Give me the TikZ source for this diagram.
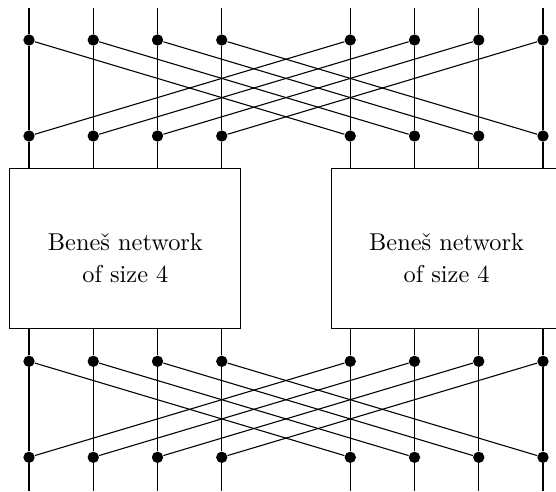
\documentclass[tikz,border=0pt]{standalone}
\begin{document}
\begin{tikzpicture}[x=0.4144pt,y=-0.4144pt,
  dot/.style={circle,fill=black,inner sep=0pt,minimum size=4.7pt},
  netbox/.style={draw,minimum width=95.7pt,minimum height=66.6pt},
  nettext/.style={align=center,font=\fontsize{10.1}{13.3}\selectfont},
  wire/.style={line width=0.45pt}]
\useasboundingbox (0,0) rectangle (556,491);
\node[netbox] (L) at (125.4,248.6) {};
\node[netbox] (R) at (446.6,248.6) {};
\node[nettext] (Lt) at (125.4,258) {Bene\v{s} network\\of size 4};
\node[nettext] (Rt) at (446.6,258) {Bene\v{s} network\\of size 4};
\foreach \k [count=\i] in {0,1,2,3,5,6,7,8} {
  \pgfmathsetmacro\xx{29+64.25*\k}
  \coordinate (t\i) at (\xx,8);
  \coordinate (e\i) at (\xx,491);
  \node[dot] (a\i) at (\xx,40) {};
  \node[dot] (b\i) at (\xx,136) {};
  \node[dot] (c\i) at (\xx,361.3) {};
  \node[dot] (d\i) at (\xx,457.3) {};
}
\foreach \i in {1,...,4} {
  \draw[wire] (t\i) -- (a\i) -- (b\i) -- (b\i |- L.north);
  \draw[wire] (c\i |- L.south) -- (c\i) -- (d\i) -- (e\i);
}
\foreach \i in {5,...,8} {
  \draw[wire] (t\i) -- (a\i) -- (b\i) -- (b\i |- R.north);
  \draw[wire] (c\i |- R.south) -- (c\i) -- (d\i) -- (e\i);
}
\foreach \i [evaluate=\i as \j using int(\i+4)] in {1,...,4} {
  \draw[wire] (a\i) -- (b\j);
  \draw[wire] (a\j) -- (b\i);
  \draw[wire] (c\i) -- (d\j);
  \draw[wire] (c\j) -- (d\i);
}
\end{tikzpicture}
\end{document}
